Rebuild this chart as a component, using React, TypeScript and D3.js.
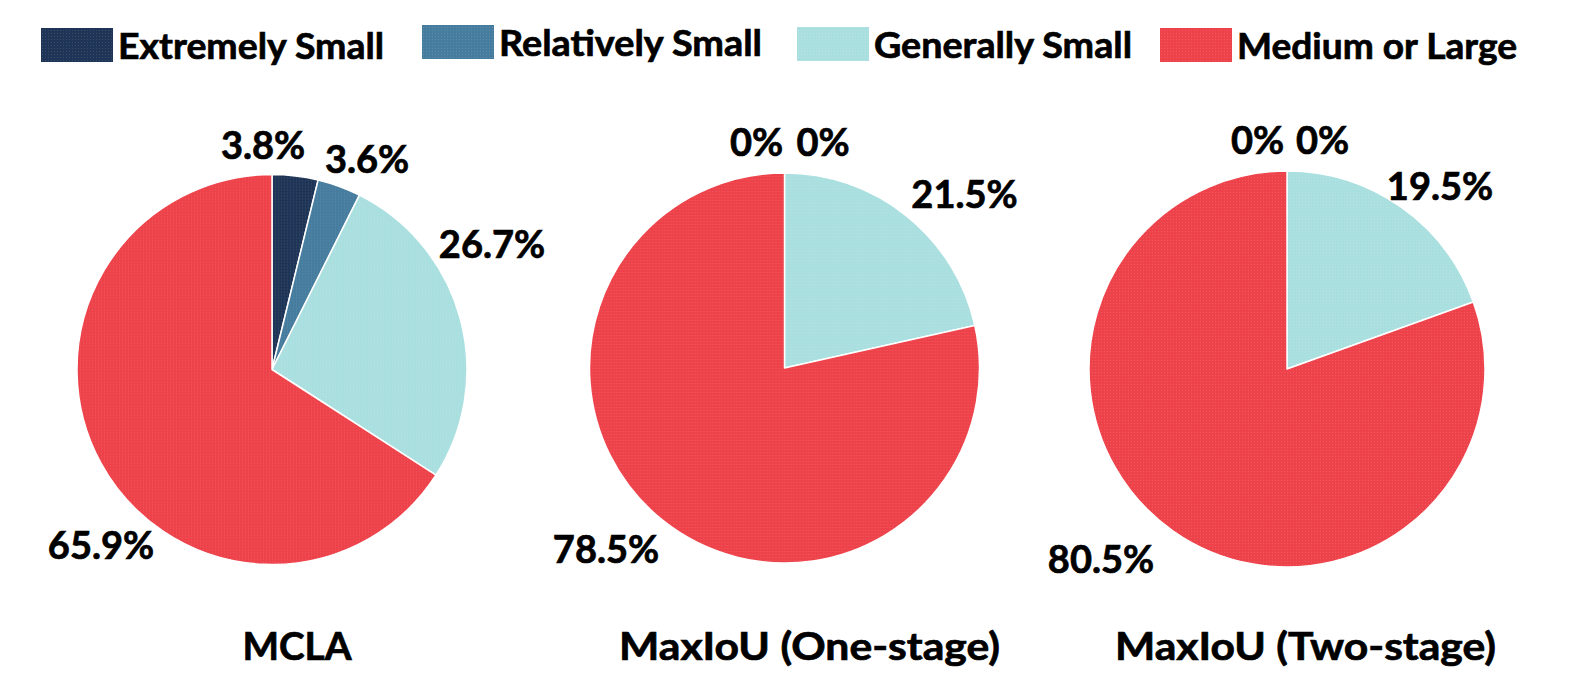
import React from "react";
import * as d3 from "d3";

// ---- data ----
const categories = ["Extremely Small", "Relatively Small", "Generally Small", "Medium or Large"];
const mclaValues = [3.8, 3.6, 26.7, 65.9];
const oneStageValues = [0, 0, 21.5, 78.5];
const twoStageValues = [0, 0, 19.5, 80.5];
const chartTitles = ["MCLA", "MaxIoU (One-stage)", "MaxIoU (Two-stage)"];
const seriesList = [mclaValues, oneStageValues, twoStageValues];

// ---- style / layout ----
const colors = ["#1f3557", "#467c9e", "#aadfe0", "#ee424b"];
const FONT = "Lato, 'Open Sans', 'DejaVu Sans', sans-serif";

const pieLayout = [
  { cx: 272, cy: 369.5, r: 195, titleDx: 25, titleW: 109 },
  { cx: 784.5, cy: 368, r: 195, titleDx: 25, titleW: 381 },
  { cx: 1287, cy: 369, r: 198, titleDx: 18.5, titleW: 381 },
];

// label centre offsets from pie centre (Excel-style outside-end placement)
const labelOffsets = [
  [[-9, -224], [95, -210.5], [220, -125], [-171, 175.5]],
  [[-28, -226], [38.5, -226], [180, -174], [-178.5, 181.5]],
  [[-29.5, -229], [35.5, -229], [153, -183], [-186, 190.5]],
];

const legendLayout = [
  { x: 41, y: 28, textW: 266 },
  { x: 422, y: 25, textW: 263 },
  { x: 797, y: 27, textW: 258 },
  { x: 1160, y: 28, textW: 280 },
];

const fmt = (v: number) => (v === 0 ? "0%" : `${v.toFixed(1)}%`);

const boldStroke = { stroke: "#000", strokeWidth: 0.7 };

export default function App() {
  const pie = d3
    .pie<number>()
    .sort(null)
    .value((d) => d);

  return (
    <svg
      width={1577}
      height={689}
      style={{ position: "absolute", left: 0, top: 0, background: "#fff" }}
      fontFamily={FONT}
      fontWeight={700}
    >
      <defs>
        {colors.map((c, i) => (
          <pattern key={i} id={`tex${i}`} width={3} height={3} patternUnits="userSpaceOnUse">
            <rect width={3} height={3} fill={c} />
            <rect width={1} height={1} fill="#fff" opacity={0.12} />
          </pattern>
        ))}
      </defs>

      {/* legend */}
      {categories.map((cat, i) => {
        const L = legendLayout[i];
        return (
          <g key={cat}>
            <rect x={L.x} y={L.y} width={72} height={34} fill={`url(#tex${i})`} />
            <text
              x={L.x + 77}
              y={L.y + 31}
              fontSize={37}
              fill="#000"
              {...boldStroke}
              textLength={L.textW}
              lengthAdjust="spacingAndGlyphs"
            >
              {cat}
            </text>
          </g>
        );
      })}

      {/* pies */}
      {seriesList.map((values, pi) => {
        const L = pieLayout[pi];
        const arc = d3.arc<d3.PieArcDatum<number>>().innerRadius(0).outerRadius(L.r);
        const arcs = pie(values);
        return (
          <g key={pi}>
            <g transform={`translate(${L.cx},${L.cy})`}>
              {arcs.map((a, i) =>
                a.value > 0 ? (
                  <path
                    key={i}
                    d={arc(a) || ""}
                    fill={`url(#tex${i})`}
                    stroke="#fff"
                    strokeWidth={1.5}
                    strokeLinejoin="round"
                  />
                ) : null
              )}
              {arcs.map((a, i) => {
                const [dx, dy] = labelOffsets[pi][i];
                return (
                  <text
                    key={`l${i}`}
                    x={dx}
                    y={dy + 13.5}
                    textAnchor="middle"
                    fontSize={38}
                    fill="#000"
                    {...boldStroke}
                  >
                    {fmt(a.value)}
                  </text>
                );
              })}
            </g>
            <text
              x={L.cx + L.titleDx}
              y={660}
              textAnchor="middle"
              fontSize={39}
              fill="#000"
              {...boldStroke}
              textLength={L.titleW}
              lengthAdjust="spacingAndGlyphs"
            >
              {chartTitles[pi]}
            </text>
          </g>
        );
      })}
    </svg>
  );
}
